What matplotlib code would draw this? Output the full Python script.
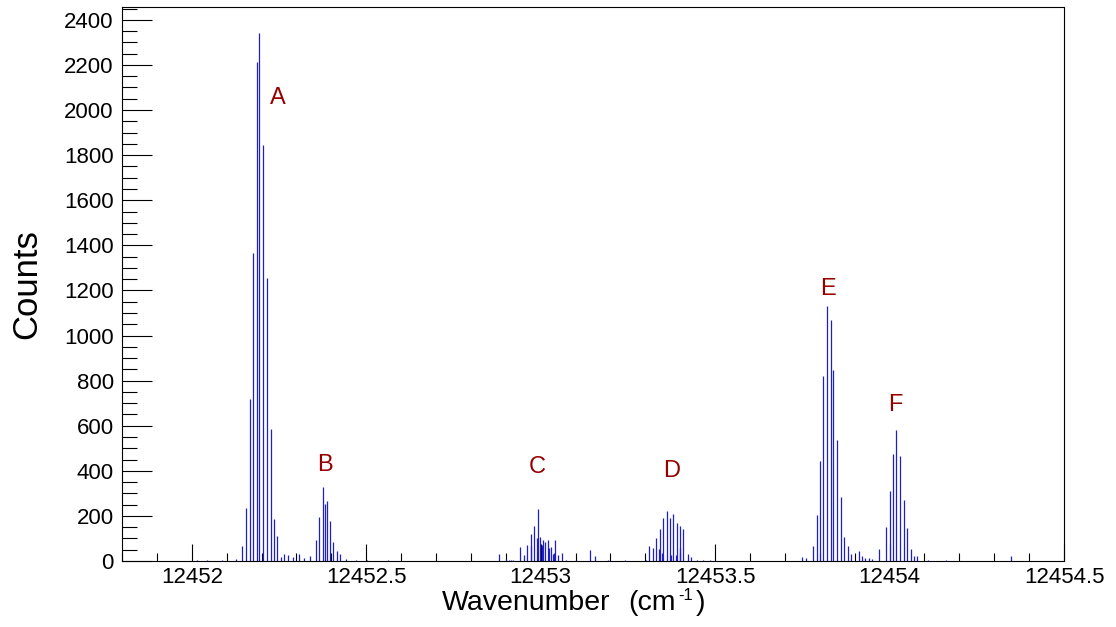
import matplotlib
matplotlib.use("Agg")
import matplotlib.pyplot as plt
from matplotlib.ticker import MultipleLocator, FixedLocator
import numpy as np

plt.rcParams['font.family'] = ['Liberation Sans', 'DejaVu Sans']

# spike positions (wavenumber, cm^-1) and counts
wavenumber = [
    12452.016, 12452.045, 12452.086, 12452.126, 12452.145, 12452.154, 12452.166,
    12452.175, 12452.186, 12452.192, 12452.205, 12452.215, 12452.226, 12452.235,
    12452.245, 12452.255, 12452.265, 12452.276, 12452.291, 12452.307, 12452.321,
    12452.338, 12452.355, 12452.366, 12452.375, 12452.383, 12452.387, 12452.395,
    12452.405, 12452.416, 12452.426, 12452.441, 12452.472, 12452.502, 12452.563,
    12452.880, 12452.902, 12452.909, 12452.916, 12452.922, 12452.942, 12452.951,
    12452.962, 12452.971, 12452.973, 12452.982, 12452.989, 12452.991, 12452.999,
    12453.003, 12453.006, 12453.011, 12453.021, 12453.023, 12453.031, 12453.035,
    12453.038, 12453.042, 12453.051, 12453.061, 12453.073, 12453.101, 12453.142,
    12453.156, 12453.192, 12453.242, 12453.275,
    12453.302, 12453.311, 12453.321, 12453.331, 12453.338, 12453.342, 12453.349,
    12453.351, 12453.362, 12453.371, 12453.373, 12453.380, 12453.388, 12453.391,
    12453.399, 12453.400, 12453.409, 12453.422, 12453.431, 12453.447, 12453.466,
    12453.485,
    12453.749, 12453.761, 12453.781, 12453.791, 12453.800, 12453.809, 12453.821,
    12453.831, 12453.839, 12453.849, 12453.860, 12453.869, 12453.880, 12453.889,
    12453.911, 12453.921, 12453.930, 12453.940, 12453.950,
    12453.970, 12453.989, 12454.000, 12454.009, 12454.018, 12454.029, 12454.041,
    12454.051, 12454.061, 12454.069, 12454.080, 12454.110, 12454.161, 12454.349,
]
counts = [
    5, 3, 3, 9, 68, 233, 720,
    1364, 2214, 2340, 1847, 1257, 585, 186,
    111, 19, 30, 26, 19, 30, 12,
    22, 93, 195, 328, 255, 266, 177,
    86, 44, 31, 7, 4, 4, 4,
    32, 7, 6, 6, 6, 60, 28,
    69, 120, 66, 155, 103, 232, 106,
    72, 92, 84, 92, 57, 62, 32,
    35, 92, 28, 37, 6, 4, 47,
    22, 3, 3, 2,
    5, 66, 58, 103, 53, 142, 35,
    190, 220, 190, 25, 207, 27, 170,
    58, 154, 143, 32, 18, 6, 4,
    4,
    19, 13, 66, 204, 444, 821, 1129,
    1067, 846, 536, 284, 105, 66, 30,
    44, 20, 15, 14, 7,
    52, 149, 310, 474, 580, 465, 271,
    148, 52, 22, 22, 4, 3, 20,
]

peak_labels = ['A', 'B', 'C', 'D', 'E', 'F']
peak_label_x = [12452.246, 12452.383, 12452.989, 12453.374, 12453.823, 12454.016]
peak_label_y = [2055, 425, 415, 400, 1205, 690]

x_ticks = [12452, 12452.5, 12453, 12453.5, 12454, 12454.5]
x_ticklabels = ['12452', '12452.5', '12453', '12453.5', '12454', '12454.5']
y_ticks = list(range(0, 2401, 200))

W, H = 1116, 627
fig = plt.figure(figsize=(W / 100, H / 100), dpi=100)
left, right, top, bottom = 122, 1064, 7, 561
ax = fig.add_axes([left / W, 1 - bottom / H, (right - left) / W, (bottom - top) / H])

ax.vlines(wavenumber, 0, counts, colors='#1f1fc8', linewidth=0.9)

ax.set_xlim(12451.8, 12454.5)
ax.set_ylim(0, 2457)

ax.xaxis.set_major_locator(FixedLocator(x_ticks))
ax.set_xticklabels(x_ticklabels)
ax.xaxis.set_minor_locator(MultipleLocator(0.1))
ax.yaxis.set_major_locator(FixedLocator(y_ticks))
ax.yaxis.set_minor_locator(MultipleLocator(50))

ax.tick_params(axis='x', which='major', direction='in', length=12, width=0.8,
               labelsize=16, pad=4, top=False)
ax.tick_params(axis='x', which='minor', direction='in', length=6, width=0.8, top=False)
ax.tick_params(axis='y', which='major', direction='in', length=21.5, width=0.8,
               labelsize=16, pad=6, right=False)
ax.tick_params(axis='y', which='minor', direction='in', length=11, width=0.8, right=False)

for sp in ax.spines.values():
    sp.set_linewidth(0.8)
    sp.set_color('black')

for lab, lx, ly in zip(peak_labels, peak_label_x, peak_label_y):
    ax.text(lx, ly, lab, color='#960000', fontsize=17, ha='center', va='center')

# x-axis title assembled in pieces (ROOT-like layout, hyphen superscript)
fig.canvas.draw()
renderer = fig.canvas.get_renderer()
base_y = 1 - 610 / H
fig.text(442 / W, base_y, 'Wavenumber', fontsize=20.5, ha='left', va='baseline')
t2 = fig.text(628 / W, base_y, '(cm', fontsize=20.5, ha='left', va='baseline')
bb2 = t2.get_window_extent(renderer)
t3 = fig.text((bb2.x1 + 3) / W, 1 - 600 / H, '-1', fontsize=12, ha='left', va='baseline')
bb3 = t3.get_window_extent(renderer)
fig.text((bb3.x1 + 3) / W, base_y, ')', fontsize=20.5, ha='left', va='baseline')

fig.text(27 / W, 1 - 284 / H, 'Counts', fontsize=25, rotation=90,
         ha='center', va='center')

fig.savefig('out.png', dpi=100)
